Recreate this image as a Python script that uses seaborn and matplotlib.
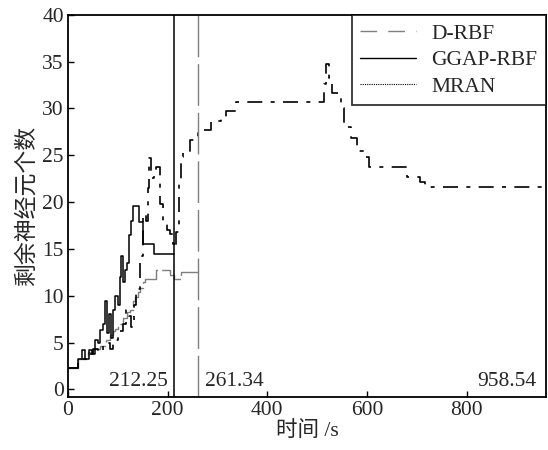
import numpy as np
import pandas as pd
import matplotlib
matplotlib.use('Agg')
import matplotlib.pyplot as plt
from matplotlib.lines import Line2D
import seaborn as sns

sns.set_style('ticks')
plt.rcParams['font.family'] = ['Liberation Serif', 'Noto Sans CJK SC']
plt.rcParams['xtick.direction'] = 'in'
plt.rcParams['ytick.direction'] = 'in'

# remaining neurons over time
ggap_t = [0, 10, 20, 28, 35, 42, 48, 55, 60, 65, 70, 74, 78, 82, 86, 90, 95, 100,
          104, 107, 110, 114, 118, 122, 126, 130, 138, 143, 150, 172, 212.25]
ggap_n = [2.3, 2.3, 3.3, 4.2, 3.3, 4.2, 3.8, 5.3, 5.0, 6.3, 7.0, 9.4, 6.0, 8.0, 5.5, 8.5, 10.0, 9.0,
          12.0, 14.2, 11.5, 12.8, 13.5, 16.5, 18.0, 19.6, 19.6, 17.9, 15.5, 14.5, 14.5]

drbf_t = [0, 20, 30, 40, 50, 64, 77, 85, 91, 95, 101, 111, 118, 124, 130, 134, 140,
          144, 150, 154, 164, 177, 197, 205, 212, 226, 261.34]
drbf_n = [2.3, 3.3, 3.3, 4.0, 4.3, 4.6, 5.3, 5.8, 6.2, 6.5, 7.0, 7.6, 8.3, 8.5, 9.4, 9.9, 10.4,
          10.8, 11.5, 11.8, 11.8, 12.8, 12.8, 12.2, 11.8, 12.5, 12.5]

mran_t = [0, 20, 30, 40, 50, 60, 70, 80, 85, 91, 100, 110, 117, 122, 127, 132, 137, 144,
          150, 156, 160, 163, 167, 172, 177, 184, 191, 198, 204, 210, 214, 217, 223, 226,
          231, 244, 260, 280, 287, 307, 317, 337, 350, 400, 450, 510, 513, 517, 524, 530,
          540, 547, 553, 567, 580, 593, 603, 660, 680, 707, 717, 958.54]
mran_n = [2.3, 3.0, 3.3, 3.8, 4.3, 4.0, 4.6, 5.0, 4.3, 5.3, 6.2, 7.0, 8.5, 7.8, 6.7, 9.0, 10.7, 14.2,
          18.7, 18.0, 21.5, 24.7, 22.6, 23.0, 23.7, 19.8, 17.7, 17.0, 16.6, 15.5, 15.1, 16.8, 22.3, 24.8,
          25.3, 26.6, 27.7, 27.7, 28.7, 29.1, 29.7, 30.7, 30.7, 30.7, 30.7, 30.7, 32.6, 34.7, 33.3, 31.7,
          31.7, 30.0, 28.0, 26.9, 25.5, 24.8, 23.8, 23.8, 22.7, 22.2, 21.6, 21.6]

end_times = [212.25, 261.34, 958.54]
end_labels = ['212.25', '261.34', '958.54']

fs = 15.5
fig = plt.figure(figsize=(5.48, 4.5), dpi=100)
ax = fig.add_axes([0.124, 0.118, 0.872, 0.849])

sns.lineplot(x=drbf_t, y=drbf_n, ax=ax, color='#7f7f7f', linewidth=1.0,
             drawstyle='steps-post', estimator=None, sort=False, linestyle=(0, (20, 3)))
sns.lineplot(x=ggap_t, y=ggap_n, ax=ax, color='black', linewidth=1.1,
             drawstyle='steps-post', estimator=None, sort=False)
sns.lineplot(x=mran_t, y=mran_n, ax=ax, color='black', linewidth=1.2,
             drawstyle='steps-post', estimator=None, sort=False, linestyle=(0, (9, 5, 2.4, 5)))

ax.axvline(end_times[0], color='black', linewidth=1.1)
ax.axvline(end_times[1], color='#7f7f7f', linewidth=1.0, linestyle=(0, (30, 5)))

ax.text(end_times[0] - 12, 0.8, end_labels[0], ha='right', va='center', fontsize=fs)
ax.text(end_times[1] + 14, 0.8, end_labels[1], ha='left', va='center', fontsize=fs)
ax.text(end_times[2] - 18, 0.8, end_labels[2], ha='right', va='center', fontsize=fs)

ax.set_xlim(0, 958.54)
ax.set_ylim(-0.8, 40)
ax.set_xticks([0, 200, 400, 600, 800])
ax.set_yticks([0, 5, 10, 15, 20, 25, 30, 35, 40])
ax.tick_params(labelsize=fs, length=4, width=1, color='black', pad=3)
for s in ax.spines.values():
    s.set_linewidth(1.3)
    s.set_color('black')
ax.set_xlabel('时间 /s', fontsize=fs, labelpad=1)
ax.set_ylabel('剩余神经元个数', fontsize=16.5, labelpad=3)

handles = [
    Line2D([], [], color='#7f7f7f', linewidth=1.0, linestyle=(0, (12, 8))),
    Line2D([], [], color='black', linewidth=1.0),
    Line2D([], [], color='black', linewidth=0.8, linestyle=(0, (1, 1))),
]
leg = ax.legend(handles, ['D-RBF', 'GGAP-RBF', 'MRAN'], loc='upper right', borderaxespad=0,
                fontsize=fs, frameon=True, fancybox=False, edgecolor='black',
                handlelength=2.6, handletextpad=0.7, labelspacing=0.3, borderpad=0.4)
leg.get_frame().set_linewidth(1.3)

fig.savefig('out.png', dpi=100)
plt.close(fig)
